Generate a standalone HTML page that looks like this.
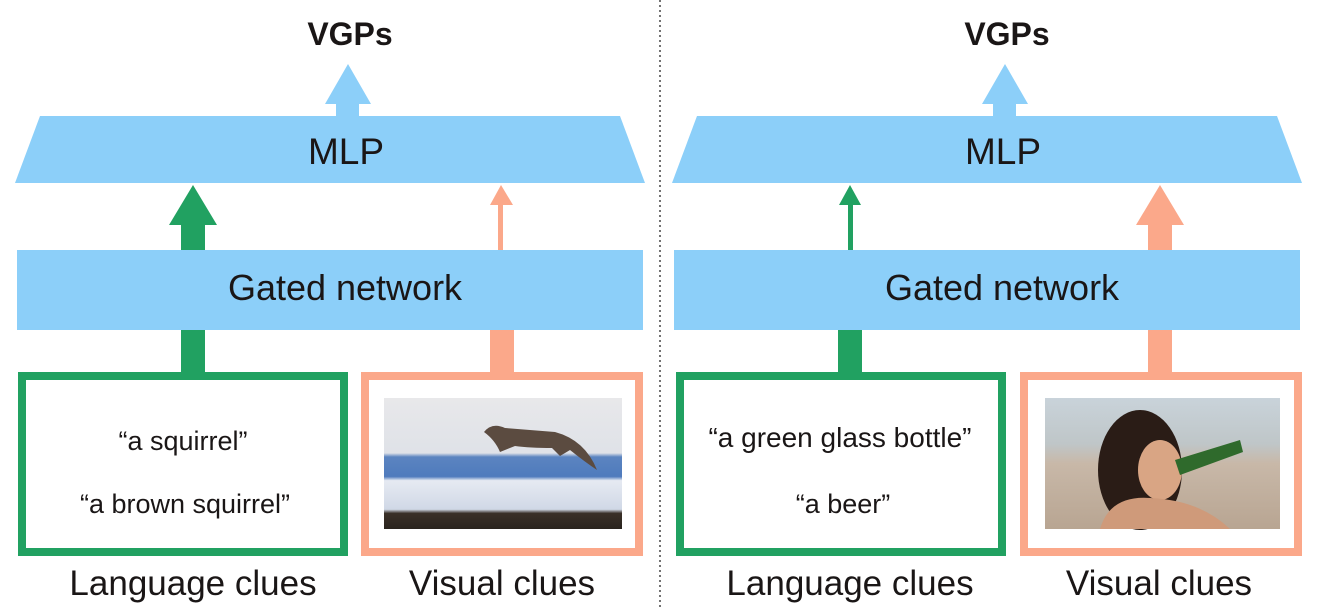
<!DOCTYPE html>
<html><head><style>
body{margin:0;background:#fff;width:1321px;height:607px;overflow:hidden;font-family:"Liberation Sans",sans-serif;}
</style></head><body>
<svg width="1321" height="607" viewBox="0 0 1321 607" xmlns="http://www.w3.org/2000/svg" font-family="Liberation Sans, sans-serif">
<defs>
<linearGradient id="snow" x1="0" y1="0" x2="0" y2="1">
<stop offset="0" stop-color="#e8e8ea"/><stop offset="0.42" stop-color="#dfe2e8"/>
<stop offset="0.45" stop-color="#5b84c0"/><stop offset="0.6" stop-color="#4f7bbd"/>
<stop offset="0.63" stop-color="#e6eaf2"/><stop offset="0.85" stop-color="#d0d8e6"/>
<stop offset="0.88" stop-color="#3a3028"/><stop offset="1" stop-color="#2a241e"/>
</linearGradient>
<linearGradient id="beach" x1="0" y1="0" x2="0" y2="1">
<stop offset="0" stop-color="#c9d3da"/><stop offset="0.35" stop-color="#bfc6c8"/>
<stop offset="0.5" stop-color="#c8b8a8"/><stop offset="1" stop-color="#b8a592"/>
</linearGradient>
</defs>
<line x1="660" y1="0" x2="660" y2="607" stroke="#444" stroke-width="1.5" stroke-dasharray="2,3"/>
<g id="L">
<text x="350" y="45" text-anchor="middle" font-size="32" font-weight="bold" fill="#1a1616">VGPs</text>
<polygon points="336,116 359,116 359,104 371,104 348,64 325,104 336,104" fill="#8ccff9"/>
<polygon points="40,116 620,116 645,183 15,183" fill="#8ccff9"/>
<text x="346" y="164" text-anchor="middle" font-size="37" fill="#1a1616">MLP</text>
<rect x="17" y="250" width="626" height="80" fill="#8ccff9"/>
<text x="345" y="300" text-anchor="middle" font-size="36" fill="#1a1616">Gated network</text>
<text x="193" y="595" text-anchor="middle" font-size="35" fill="#1a1616">Language clues</text>
<text x="502" y="595" text-anchor="middle" font-size="35" fill="#1a1616">Visual clues</text>
</g>
<use href="#L" x="657"/>
<polygon points="181,250 205,250 205,225 217,225 193,185 169,225 181,225" fill="#21a161"/>
<polygon points="498,250 503,250 503,205 513,205 501,185 490,205 498,205" fill="#fba88a"/>
<rect x="181" y="330" width="24" height="44" fill="#21a161"/>
<rect x="490" y="330" width="24" height="44" fill="#fba88a"/>
<rect x="22" y="376" width="322" height="176" fill="none" stroke="#21a161" stroke-width="8"/>
<rect x="365" y="376" width="274" height="176" fill="none" stroke="#fba88a" stroke-width="8"/>
<text x="183" y="450" text-anchor="middle" font-size="27" fill="#1a1616">“a squirrel”</text>
<text x="185" y="513" text-anchor="middle" font-size="27" fill="#1a1616">“a brown squirrel”</text>
<rect x="384" y="398" width="238" height="131" fill="url(#snow)"/>
<path d="M484,432 Q492,422 505,428 Q530,430 555,432 Q585,440 597,470 Q585,462 570,450 L560,456 L552,448 Q530,448 515,446 L500,452 Q495,440 484,432Z" fill="#5b4b40"/>
<polygon points="848,250 853,250 853,205 861,205 850,185 839,205 848,205" fill="#21a161"/>
<polygon points="1148,250 1172,250 1172,225 1184,225 1160,185 1136,225 1148,225" fill="#fba88a"/>
<rect x="838" y="330" width="24" height="44" fill="#21a161"/>
<rect x="1148" y="330" width="24" height="44" fill="#fba88a"/>
<rect x="680" y="376" width="322" height="176" fill="none" stroke="#21a161" stroke-width="8"/>
<rect x="1024" y="376" width="274" height="176" fill="none" stroke="#fba88a" stroke-width="8"/>
<text x="840" y="447" text-anchor="middle" font-size="28" fill="#1a1616">“a green glass bottle”</text>
<text x="843" y="513" text-anchor="middle" font-size="27" fill="#1a1616">“a beer”</text>
<rect x="1045" y="398" width="235" height="131" fill="url(#beach)"/>
<ellipse cx="1140" cy="470" rx="42" ry="60" fill="#2a1c16"/>
<ellipse cx="1160" cy="470" rx="22" ry="30" fill="#d9a584"/>
<path d="M1100,529 Q1110,495 1150,498 Q1200,500 1230,529Z" fill="#cf9a7a"/>
<polygon points="1175,460 1240,440 1243,452 1180,475" fill="#2f6a2c"/>
</svg>
</body></html>
